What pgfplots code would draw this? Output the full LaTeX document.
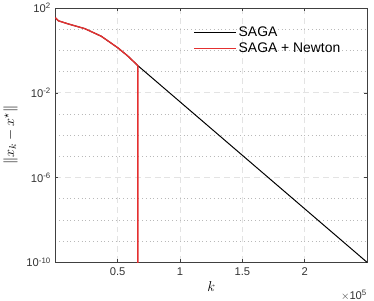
\documentclass[border=0pt]{standalone}
\usepackage{fontspec}
\setmainfont{Liberation Sans}
\usepackage{pgfplots}
\pgfplotsset{compat=1.18}
\definecolor{sagared}{RGB}{228,48,48}
\definecolor{axgray}{RGB}{64,64,64}
\begin{document}
\begin{tikzpicture}
\begin{axis}[
  scale only axis,
  width=314pt, height=256pt,
  xmin=0, xmax=2.5,
  ymode=log, ymin=1e-10, ymax=1e2,
  xtick={0.5,1,1.5,2},
  xticklabels={0.5,1,1.5,2},
  ytick={1e-10,1e-6,1e-2,1e2},
  yticklabels={10\textsuperscript{-10},10\textsuperscript{-6},10\textsuperscript{-2},10\textsuperscript{2}},
  minor ytick={1e-9,1e-8,1e-7,1e-5,1e-4,1e-3,1e-1,1e0,1e1},
  tick align=inside,
  major tick length=3pt, minor tick length=0pt,
  axis line style={axgray, line width=0.6pt},
  tick style={axgray, line width=0.6pt},
  grid=both,
  major grid style={dash pattern=on 6pt off 4pt, gray!22, line width=0.7pt},
  minor grid style={dash pattern=on 0.8pt off 3pt, gray!55, line width=0.6pt},
  ticklabel style={font=\fontsize{11.3}{13}\selectfont, text=black!80},
  yticklabel style={xshift=-1pt},
  xticklabel style={yshift=-2pt},
  xlabel={$k$}, ylabel={$\|x_k - x^\star\|$},
  label style={font=\fontsize{14}{16}\selectfont},
  xlabel style={yshift=1pt},
  ylabel style={yshift=2pt},
  legend style={draw=none, fill=none, at={(0.44,0.94)}, anchor=north west,
    font=\fontsize{14}{16}\selectfont, row sep=1.5pt, inner sep=1pt},
  legend cell align=left,
  legend image code/.code={\draw[#1] (0pt,0pt) -- (42pt,0pt);},
  clip=true,
]
\addplot[black, line width=1pt] coordinates {
 (0,35.5) (0.025,25.1) (0.105,17.8) (0.237,10.7) (0.369,4.68) (0.502,1.33) (0.581,0.55) (0.663,0.19) (2.5,1e-10)
};
\addlegendentry{SAGA}
\addplot[sagared, line width=1.4pt] coordinates {
 (0,35.5) (0.025,25.1) (0.105,17.8) (0.237,10.7) (0.369,4.68) (0.502,1.33) (0.581,0.55) (0.663,0.19) (0.663,1e-11)
};
\addlegendentry{SAGA + Newton}
\end{axis}
\node[anchor=north east, font=\fontsize{11.3}{13}\selectfont, text=black!80, inner sep=0pt] at (314pt,-28pt) {$\times$10\textsuperscript{5}};
\path (321pt,0pt) -- (321pt,1pt);
\end{tikzpicture}
\end{document}
